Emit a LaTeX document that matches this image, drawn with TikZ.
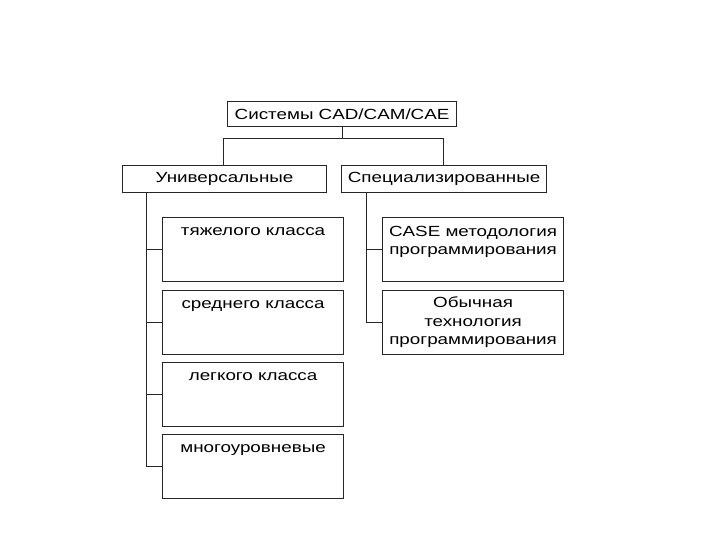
\documentclass[tikz,border=0pt]{standalone}
\usepackage{fontspec}
\setmainfont{Liberation Sans}[FakeStretch=1.28]
\begin{document}
\begin{tikzpicture}[x=1pt,y=-1pt,
  box/.style={draw=black!85, line width=1.1pt, inner sep=0pt, anchor=north west},
  txt/.style={anchor=north, align=center, inner sep=0pt, font=\fontsize{14.7}{18.5}\selectfont},
  conn/.style={draw=black!85, line width=1pt}]
\useasboundingbox (0,0) rectangle (720,540);
% top
\node[box, minimum width=229pt, minimum height=25pt] (top) at (227,101) {};
\node[txt, anchor=center] (topt) at (top.center) {Системы CAD/CAM/CAE};
% level 2
\node[box, minimum width=204pt, minimum height=27pt] (uni) at (122,165) {};
\node[txt, anchor=center] (unit) at (uni.center) {Универсальные};
\node[box, minimum width=205pt, minimum height=27pt] (spec) at (341,165) {};
\node[txt, anchor=center] (spect) at (spec.center) {Специализированные};
% left children
\foreach \n/\y/\t in {a/217/тяжелого класса, b/290/среднего класса, c/362/легкого класса, d/434/многоуровневые}{
  \node[box, minimum width=181pt, minimum height=64pt] (\n) at (162,\y) {};
  \node[txt] (\n t) at ([yshift=-10pt]\n.north) {\t};
}
% right children
\node[box, minimum width=181pt, minimum height=64pt] (e) at (382,217) {};
\node[txt] (et) at ([yshift=-9pt]e.north) {CASE методология\\программирования};
\node[box, minimum width=181pt, minimum height=64pt] (f) at (382,290) {};
\node[txt] (ft) at ([yshift=-7pt]f.north) {Обычная\\технология\\программирования};
% connectors
\coordinate (hl) at (223,139);
\coordinate (hr) at (443,139);
\draw[conn] (top.south) -- (top.south |- hl);
\draw[conn] (uni.north -| hl) -- (hl) -- (hr) -- (spec.north -| hr);
\coordinate (lv) at (146,0);
\coordinate (rv) at (366,0);
\draw[conn] (uni.south -| lv) -- (d.west -| lv);
\foreach \n in {a,b,c,d}{ \draw[conn] (\n.west -| lv) -- (\n.west); }
\draw[conn] (spec.south -| rv) -- (f.west -| rv);
\foreach \n in {e,f}{ \draw[conn] (\n.west -| rv) -- (\n.west); }
\end{tikzpicture}
\end{document}
